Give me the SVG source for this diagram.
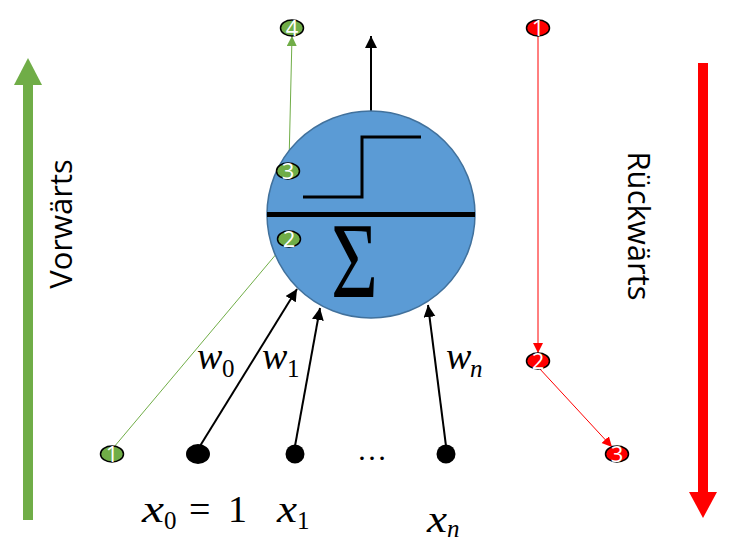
<svg xmlns="http://www.w3.org/2000/svg" width="731" height="547" viewBox="0 0 731 547">
<style>
.num{font-family:"Open Sans","Liberation Sans",sans-serif;font-size:22px;fill:#fff;text-anchor:middle}
.gn{fill:#70AD47;stroke:#000;stroke-width:1.5}
.rn{fill:#FF0000;stroke:#000;stroke-width:1.5}
.m{font-family:"Liberation Serif","DejaVu Serif",serif;font-style:italic;font-size:38px;fill:#000}
.up{font-family:"Liberation Serif","DejaVu Serif",serif;font-style:normal;fill:#000}
.sub{font-size:25px}
.lbl{font-family:"Open Sans","Liberation Sans",sans-serif;font-size:31px;fill:#000;text-anchor:middle}
.blk{stroke:#000;stroke-width:2;fill:none}
.grn{stroke:#70AD47;stroke-width:1;fill:none}
.red{stroke:#FF0000;stroke-width:1;fill:none}
</style>
<defs>
<marker id="ab" markerUnits="userSpaceOnUse" markerWidth="14" markerHeight="14" refX="12" refY="6" orient="auto"><path d="M0,0 L12,6 L0,12 z" fill="#000"/></marker>
<marker id="ag" markerUnits="userSpaceOnUse" markerWidth="12" markerHeight="12" refX="10" refY="5" orient="auto"><path d="M0,0 L10,5 L0,10 z" fill="#70AD47"/></marker>
<marker id="ar" markerUnits="userSpaceOnUse" markerWidth="12" markerHeight="12" refX="10" refY="5" orient="auto"><path d="M0,0 L10,5 L0,10 z" fill="#FF0000"/></marker>
</defs>

<g id="forward-arrow">
<rect x="23" y="84" width="10" height="436" fill="#70AD47"/>
<path d="M14,85 L28,58 L42,85 z" fill="#70AD47"/>
<text class="lbl" x="72" y="224" transform="rotate(-90 72 224)">Vorwärts</text>
</g>

<g id="backward-arrow">
<rect x="698" y="63" width="10" height="430" fill="#FF0000"/>
<path d="M689,492 L703,518 L717,492 z" fill="#FF0000"/>
<text class="lbl" x="628" y="226" transform="rotate(90 628 226)">Rückwärts</text>
</g>

<g id="connectors">
<line class="blk" x1="371" y1="111" x2="371" y2="36" marker-end="url(#ab)"/>
<line class="blk" x1="200" y1="446" x2="297" y2="289" marker-end="url(#ab)"/>
<line class="blk" x1="295" y1="446" x2="320" y2="308" marker-end="url(#ab)"/>
<line class="blk" x1="446" y1="446" x2="428" y2="305" marker-end="url(#ab)"/>
<line class="grn" x1="114" y1="447" x2="283" y2="246" marker-end="url(#ag)"/>
<line class="grn" x1="289" y1="232" x2="289" y2="179" marker-end="url(#ag)"/>
<line class="grn" x1="289" y1="163" x2="292" y2="36" marker-end="url(#ag)"/>
<line class="red" x1="538" y1="36" x2="538" y2="353" marker-end="url(#ar)"/>
<line class="red" x1="539" y1="368" x2="612" y2="447" marker-end="url(#ar)"/>
</g>

<g id="neuron">
<ellipse cx="371" cy="214.5" rx="104" ry="103.5" fill="#5B9BD5" stroke="#41719C" stroke-width="1.5"/>
<line x1="267" y1="214.5" x2="475" y2="214.5" stroke="#000" stroke-width="5"/>
<polyline points="303,197 362,197 362,137 421,137" fill="none" stroke="#000" stroke-width="3"/>
<text x="331" y="297" font-family="Liberation Serif,DejaVu Serif,serif" font-size="108" textLength="47" lengthAdjust="spacingAndGlyphs" fill="#000">Σ</text>
</g>

<g id="g1"><ellipse class="gn" cx="112" cy="454" rx="11.5" ry="8"/><text class="num" x="112" y="462">1</text></g>
<g id="g2"><ellipse class="gn" cx="289" cy="239" rx="11.5" ry="8"/><text class="num" x="289" y="247">2</text></g>
<g id="g3"><ellipse class="gn" cx="288" cy="171" rx="11.5" ry="8"/><text class="num" x="288" y="179">3</text></g>
<g id="g4"><ellipse class="gn" cx="292" cy="28" rx="11.5" ry="8"/><text class="num" x="292" y="36">4</text></g>

<g id="r1"><ellipse class="rn" cx="538" cy="28" rx="11.5" ry="8"/><text class="num" x="538" y="36">1</text></g>
<g id="r2"><ellipse class="rn" cx="538" cy="361" rx="11.5" ry="8"/><text class="num" x="538" y="369">2</text></g>
<g id="r3"><ellipse class="rn" cx="617" cy="454" rx="11.5" ry="8"/><text class="num" x="617" y="462">3</text></g>

<g id="x0"><ellipse cx="198" cy="454" rx="12" ry="10" fill="#000"/></g>
<g id="x1"><circle cx="295" cy="454" r="9.5" fill="#000"/></g>
<g id="xn"><circle cx="446" cy="454" r="9.5" fill="#000"/></g>
<text id="dots" x="372" y="460" font-family="Liberation Serif,serif" font-size="30" text-anchor="middle">…</text>

<g id="labels">
<text class="m" x="197" y="369">w</text><text class="up sub" x="222" y="377">0</text>
<text class="m" x="262" y="369">w</text><text class="up sub" x="287" y="377">1</text>
<text class="m" x="446" y="369">w</text><text class="m sub" x="470" y="377">n</text>
<text class="m" x="142" y="522" textLength="22" lengthAdjust="spacingAndGlyphs">x</text><text class="up sub" x="164" y="529">0</text>
<text class="up" x="189" y="522" font-size="38">=</text>
<text class="up" x="228" y="522" font-size="38">1</text>
<text class="m" x="277" y="522" textLength="20" lengthAdjust="spacingAndGlyphs">x</text><text class="up sub" x="297" y="529">1</text>
<text class="m" x="427" y="532" textLength="20" lengthAdjust="spacingAndGlyphs">x</text><text class="m sub" x="447" y="537">n</text>
</g>
</svg>
